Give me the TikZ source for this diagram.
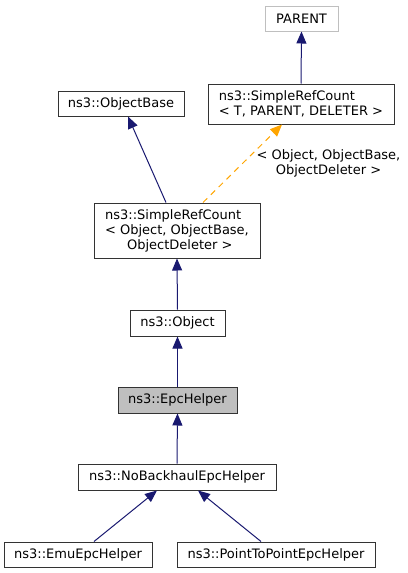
\documentclass[tikz,border=0pt]{standalone}
\usepackage{fontspec}
\setmainfont{DejaVu Sans}
\usetikzlibrary{arrows.meta}
\definecolor{navy}{HTML}{191970}
\definecolor{orng}{HTML}{FFA500}
\definecolor{lgray}{HTML}{BFBFBF}
\definecolor{fillgray}{HTML}{BFBFBF}
\begin{document}
\begin{tikzpicture}[x=1pt,y=-1pt,
  box/.style={draw=black!80, line width=1pt, fill=white, inner sep=0pt, align=left,
    font=\fontsize{13}{15}\selectfont},
  inh/.style={draw=navy, line width=1pt, -{Triangle[length=12pt,width=10pt]}},
  tmpl/.style={draw=orng, line width=1pt, dash pattern=on 6pt off 5pt, -{Triangle[length=12pt,width=10pt]}},
  lbl/.style={font=\fontsize{13}{15}\selectfont, align=center, inner sep=0pt}]
\useasboundingbox (0,0) rectangle (407,573);
\node[box, draw=lgray, minimum width=73pt, minimum height=25pt] (parent) at (301.5,18.5) {PARENT};
\node[box, minimum width=186pt, minimum height=40pt] (srct) at (301,104) {ns3::SimpleRefCount\\< T, PARENT, DELETER >};
\node[box, minimum width=126pt, minimum height=25pt] (objbase) at (121,103.5) {ns3::ObjectBase};
\node[box, minimum width=166pt, minimum height=55pt] (srcobj) at (177,230.5) {ns3::SimpleRefCount\\< Object, ObjectBase,\\\hspace*{22pt}ObjectDeleter >};
\node[box, minimum width=95pt, minimum height=26pt] (object) at (177.5,323) {ns3::Object};
\node[box, fill=fillgray, minimum width=119pt, minimum height=26pt] (epc) at (177.5,400) {ns3::EpcHelper};
\node[box, minimum width=198pt, minimum height=26pt] (nbh) at (177,477) {ns3::NoBackhaulEpcHelper};
\node[box, minimum width=148pt, minimum height=25pt] (emu) at (78,554.5) {ns3::EmuEpcHelper};
\node[box, minimum width=198pt, minimum height=25pt] (p2p) at (276,554.5) {ns3::PointToPointEpcHelper};
\draw[inh] (srct.north) -- (parent.south);
\draw[inh] ([xshift=-11pt]srcobj.north) -- ([xshift=7pt]objbase.south);
\draw[tmpl] ([xshift=26pt]srcobj.north) -- ([xshift=-19pt]srct.south);
\node[lbl] (tlabel) at (328.5,163) {< Object, ObjectBase,\\ObjectDeleter >};
\draw[inh] (object.north) -- (srcobj.south);
\draw[inh] (epc.north) -- (object.south);
\draw[inh] (nbh.north) -- (epc.south);
\draw[inh] ([xshift=16pt]emu.north) -- ([xshift=-20pt]nbh.south);
\draw[inh] ([xshift=-15pt]p2p.north) -- ([xshift=21pt]nbh.south);
\end{tikzpicture}
\end{document}
